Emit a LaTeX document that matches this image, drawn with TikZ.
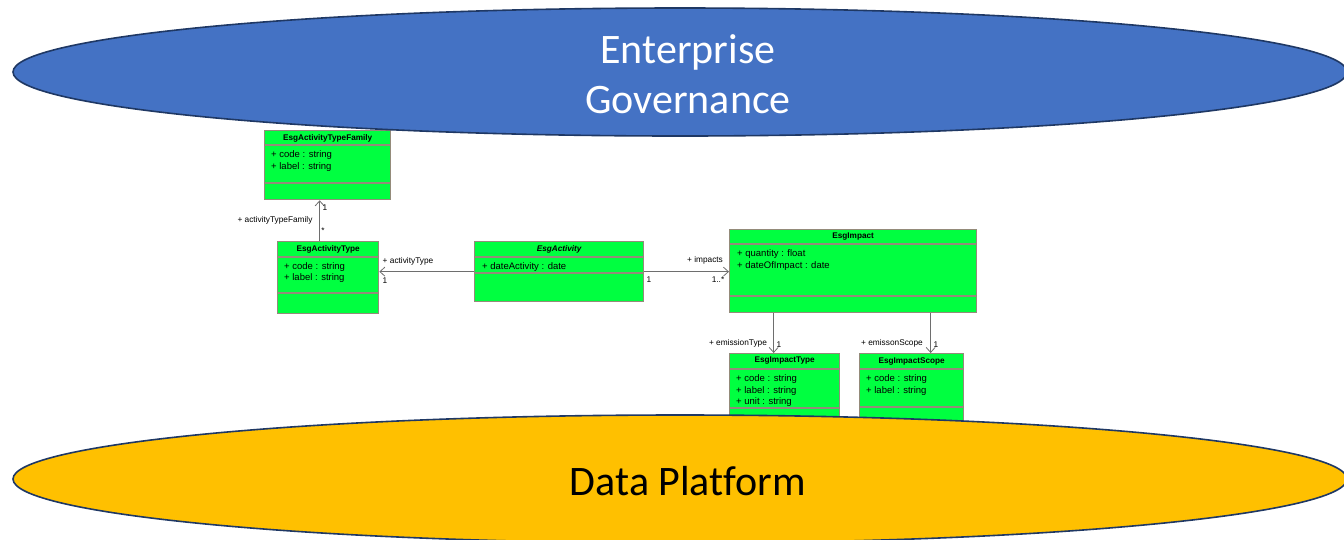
\documentclass[tikz,border=0pt]{standalone}
\usepackage{fontspec}
\setmainfont{Liberation Sans}
\newfontfamily\layerfont[Ligatures=NoCommon]{Carlito}
\usetikzlibrary{shapes.geometric, arrows.meta, positioning}

\definecolor{govblue}{HTML}{4472C4}
\definecolor{platgold}{HTML}{FFC000}
\definecolor{rimnavy}{HTML}{1F3864}
\definecolor{umlgreen}{HTML}{00FF40}
\definecolor{umledge}{HTML}{948B7A}
\definecolor{linkgray}{HTML}{6E6E6E}

\begin{document}
\begin{tikzpicture}[
    x=1pt, y=-1pt,
    layer/.style={
        ellipse,
        draw=rimnavy,
        line width=1.6pt,
        minimum width=1334pt,
        minimum height=128pt,
        inner sep=0pt
    },
    layertext/.style={font=\layerfont\fontsize{42}{50}\selectfont, align=center, inner sep=0pt},
    class/.style={
        rectangle,
        draw=umledge,
        fill=umlgreen,
        line width=1.3pt,
        anchor=north west,
        inner sep=0pt
    },
    divider/.style={draw=umledge, line width=1.3pt},
    title/.style={font=\bfseries\fontsize{8.2}{9}\selectfont, inner sep=0pt},
    attr/.style={font=\fontsize{9.5}{11.5}\selectfont, align=left, anchor=base west, inner sep=0pt},
    role/.style={font=\fontsize{8.3}{9}\selectfont, inner sep=0pt},
    assoc/.style={draw=linkgray, line width=0.8pt, -{Straight Barb[length=5pt, width=9pt]}}
]

\useasboundingbox (0,0) rectangle (1344,539);

% classes (attribute nodes sit on the baseline of their last line)
\node[class, minimum width=126pt, minimum height=69pt] (family) at (264,130) {};
\draw[divider] ([yshift=-15pt]family.north west) -- ([yshift=-15pt]family.north east);
\draw[divider] ([yshift=-53pt]family.north west) -- ([yshift=-53pt]family.north east);
\node[title] (familytitle) at ([yshift=-8pt]family.north) {EsgActivityTypeFamily};
\node[attr] (familyattr) at ([xshift=7pt, yshift=-39pt]family.north west) {+ code : string\\+ label : string};

\node[class, minimum width=101pt, minimum height=72pt] (acttype) at (277,241) {};
\draw[divider] ([yshift=-16pt]acttype.north west) -- ([yshift=-16pt]acttype.north east);
\draw[divider] ([yshift=-52pt]acttype.north west) -- ([yshift=-52pt]acttype.north east);
\node[title] (acttypetitle) at ([yshift=-8pt]acttype.north) {EsgActivityType};
\node[attr] (acttypeattr) at ([xshift=7pt, yshift=-39.5pt]acttype.north west) {+ code : string\\+ label : string};

\node[class, minimum width=169pt, minimum height=60pt] (activity) at (474,241) {};
\draw[divider] ([yshift=-16pt]activity.north west) -- ([yshift=-16pt]activity.north east);
\draw[divider] ([yshift=-32pt]activity.north west) -- ([yshift=-32pt]activity.north east);
\node[title, font=\bfseries\itshape\fontsize{8.2}{9}\selectfont] (activitytitle) at ([yshift=-8pt]activity.north) {EsgActivity};
\node[attr] (activityattr) at ([xshift=8pt, yshift=-28.5pt]activity.north west) {+ dateActivity : date};

\node[class, minimum width=247pt, minimum height=83pt] (impact) at (729,229) {};
\draw[divider] ([yshift=-15pt]impact.north west) -- ([yshift=-15pt]impact.north east);
\draw[divider] ([yshift=-67pt]impact.north west) -- ([yshift=-67pt]impact.north east);
\node[title] (impacttitle) at ([yshift=-7.5pt]impact.north) {EsgImpact};
\node[attr] (impactattr) at ([xshift=8pt, yshift=-39pt]impact.north west) {+ quantity : float\\+ dateOfImpact : date};

\node[class, minimum width=110pt, minimum height=80pt] (imptype) at (729,353) {};
\draw[divider] ([yshift=-16pt]imptype.north west) -- ([yshift=-16pt]imptype.north east);
\draw[divider] ([yshift=-55pt]imptype.north west) -- ([yshift=-55pt]imptype.north east);
\node[title] (imptypetitle) at ([yshift=-8pt]imptype.north) {EsgImpactType};
\node[attr] (imptypeattr) at ([xshift=7pt, yshift=-51.5pt]imptype.north west) {+ code : string\\+ label : string\\+ unit : string};

\node[class, minimum width=104pt, minimum height=80pt] (impscope) at (859,353) {};
\draw[divider] ([yshift=-16pt]impscope.north west) -- ([yshift=-16pt]impscope.north east);
\draw[divider] ([yshift=-54pt]impscope.north west) -- ([yshift=-54pt]impscope.north east);
\node[title] (impscopetitle) at ([yshift=-8pt]impscope.north) {EsgImpactScope};
\node[attr] (impscopeattr) at ([xshift=7pt, yshift=-40pt]impscope.north west) {+ code : string\\+ label : string};

% associations
\draw[assoc] ([xshift=-8.5pt]acttype.north) -- ([xshift=-8.5pt]acttype.north |- family.south);
\draw[assoc] (activity.west) -- (activity.west -| acttype.east);
\draw[assoc] (activity.east) -- (activity.east -| impact.west);
\draw[assoc] ([xshift=-11pt]imptype.north |- impact.south) -- ([xshift=-11pt]imptype.north);
\draw[assoc] ([xshift=19pt]impscope.north |- impact.south) -- ([xshift=19pt]impscope.north);

\node[role] (famrole) at (275,220) {+ activityTypeFamily};
\node[role] (famone) at (325,208) {1};
\node[role] (famstar) at (323,231) {*};
\node[role] (typerole) at (408,261) {+ activityType};
\node[role] (typeone) at (385,281) {1};
\node[role] (actone) at (649,280) {1};
\node[role] (improle) at (705,260) {+ impacts};
\node[role] (impmany) at (718,280) {1..*};
\node[role] (emtyperole) at (738,343) {+ emissionType};
\node[role] (emtypeone) at (779,345) {1};
\node[role] (emscoperole) at (892,343) {+ emissonScope};
\node[role] (emscopeone) at (936,345) {1};

% layers
\node[layer, fill=govblue] (gov) at (680,72) {};
\node[layertext, text=white] (govtext) at (688,74) {Enterprise\\Governance};
\node[layer, fill=platgold] (platform) at (680,479) {};
\node[layertext, text=black] (platformtext) at (688,481) {Data Platform};

\end{tikzpicture}
\end{document}
